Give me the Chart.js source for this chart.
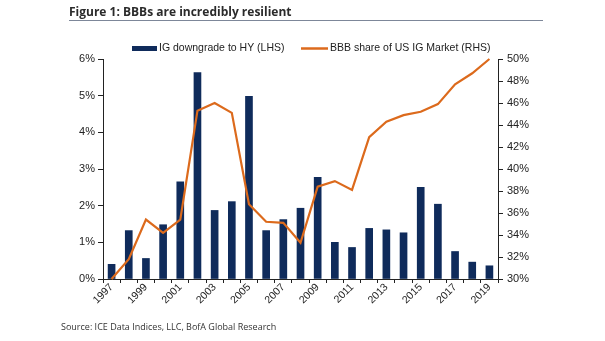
<!DOCTYPE html>
<html>
<head>
<meta charset="utf-8">
<style>
  html, body { margin: 0; padding: 0; background: #fff; }
  #wrap { position: relative; width: 605px; height: 341px; }
  canvas { display: block; }
</style>
<script src="https://cdn.jsdelivr.net/npm/chart.js@4.4.1/dist/chart.umd.min.js"></script>
</head>
<body>
<div id="wrap"><canvas id="c" width="605" height="341"></canvas></div>
<script>
// Years on the category axis
const years = ['1997','1998','1999','2000','2001','2002','2003','2004','2005','2006','2007','2008',
               '2009','2010','2011','2012','2013','2014','2015','2016','2017','2018','2019'];

// IG downgrades to HY, % (left axis)
const downgrades = [0.40, 1.32, 0.56, 1.48, 2.65, 5.63, 1.87, 2.11, 4.98, 1.32, 1.62, 1.93,
                    2.77, 1.00, 0.86, 1.38, 1.34, 1.26, 2.50, 2.04, 0.75, 0.46, 0.36];

// BBB share of the US IG market, % (right axis)
const bbbShare = [30.0, 31.8, 35.4, 34.2, 35.4, 45.3, 46.0, 45.1, 36.8, 35.2, 35.1, 33.3,
                  38.4, 38.9, 38.1, 42.9, 44.3, 44.9, 45.2, 45.9, 47.7, 48.7, 50.0];

// Axis tick values
const leftTicks = [0, 1, 2, 3, 4, 5, 6];
const rightTicks = [30, 32, 34, 36, 38, 40, 42, 44, 46, 48, 50];

const titleText = 'Figure 1: BBBs are incredibly resilient';
const sourceText = 'Source: ICE Data Indices, LLC, BofA Global Research';

const NAVY = '#0f2b5b';
const ORANGE = '#dc6a1c';
const AXIS = '#222';
const FONT = '"Liberation Sans", Arial, sans-serif';
const UI_FONT = '"Open Sans", sans-serif';

// Title, underline, legend and source note
const decorations = {
  id: 'decorations',
  afterDraw(chart) {
    const ctx = chart.ctx;
    ctx.save();
    ctx.textAlign = 'left';

    // title
    ctx.fillStyle = '#2b2b2b';
    ctx.textBaseline = 'alphabetic';
    ctx.font = 'bold 12px ' + UI_FONT;
    ctx.fillText(titleText, 69, 16);
    ctx.strokeStyle = '#7d8799';
    ctx.lineWidth = 1;
    ctx.beginPath();
    ctx.moveTo(69, 20.5);
    ctx.lineTo(543, 20.5);
    ctx.stroke();

    // legend
    const ds = chart.data.datasets;
    ctx.textBaseline = 'middle';
    ctx.fillStyle = NAVY;
    ctx.fillRect(132, 46, 25, 5);
    ctx.fillStyle = '#222';
    ctx.font = '10.5px ' + FONT;
    ctx.fillText(ds[0].label, 159, 48.5);
    ctx.strokeStyle = ORANGE;
    ctx.lineWidth = 2.5;
    ctx.beginPath();
    ctx.moveTo(301, 48.5);
    ctx.lineTo(328, 48.5);
    ctx.stroke();
    ctx.fillText(ds[1].label, 330, 48.5);

    // source
    ctx.fillStyle = '#333';
    ctx.font = '9px ' + UI_FONT;
    ctx.fillText(sourceText, 61, 327);
    ctx.restore();
  }
};

new Chart(document.getElementById('c'), {
  type: 'bar',
  data: {
    labels: years,
    datasets: [
      {
        type: 'bar',
        label: 'IG downgrade to HY (LHS)',
        data: downgrades,
        backgroundColor: NAVY,
        yAxisID: 'y',
        barThickness: 7,
        order: 2
      },
      {
        type: 'line',
        label: 'BBB share of US IG Market (RHS)',
        data: bbbShare,
        borderColor: ORANGE,
        borderWidth: 2.2,
        pointRadius: 0,
        tension: 0,
        fill: false,
        yAxisID: 'y1',
        order: 1,
        clip: 4
      }
    ]
  },
  options: {
    responsive: false,
    animation: false,
    devicePixelRatio: 1,
    layout: { padding: { top: 59, left: 0, right: 0, bottom: 0 } },
    plugins: {
      legend: { display: false },
      title: { display: false },
      tooltip: { enabled: false }
    },
    scales: {
      x: {
        offset: true,
        grid: { drawOnChartArea: false, drawTicks: true, tickLength: 4, offset: true, color: AXIS },
        border: { display: true, color: AXIS, width: 1 },
        ticks: {
          autoSkip: false,
          minRotation: 45,
          maxRotation: 45,
          padding: -2,
          color: '#222',
          font: { family: FONT, size: 10.5 },
          callback: function (v, i) { return i % 2 === 0 ? years[i] : ''; }
        },
        afterFit(s) { s.height = 62; }
      },
      y: {
        position: 'left',
        min: 0,
        max: 6,
        afterBuildTicks(s) { s.ticks = leftTicks.map(v => ({ value: v })); },
        grid: { drawOnChartArea: false, drawTicks: true, tickLength: 5, color: AXIS },
        border: { display: true, color: AXIS, width: 1 },
        ticks: {
          padding: 3,
          color: '#222',
          font: { family: FONT, size: 11 },
          callback: v => v + '%'
        },
        afterFit(s) { s.width = 103; }
      },
      y1: {
        position: 'right',
        min: 30,
        max: 50,
        afterBuildTicks(s) { s.ticks = rightTicks.map(v => ({ value: v })); },
        grid: { drawOnChartArea: false, drawTicks: true, tickLength: 5, color: AXIS },
        border: { display: true, color: AXIS, width: 1 },
        ticks: {
          padding: 4,
          color: '#222',
          font: { family: FONT, size: 11 },
          callback: v => v + '%'
        },
        afterFit(s) { s.width = 107; }
      }
    }
  },
  plugins: [decorations]
});
</script>
</body>
</html>
